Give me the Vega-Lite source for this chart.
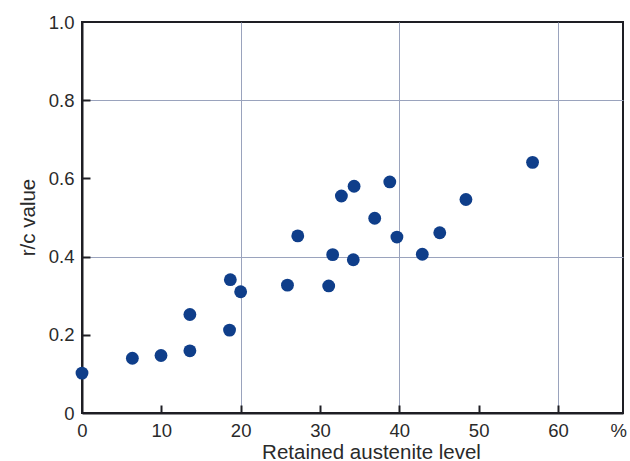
{
  "$schema": "https://vega.github.io/schema/vega-lite/v6.json",
  "width": 541,
  "height": 391,
  "autosize": {"type": "none"},
  "padding": {"left": 82, "top": 22, "right": 7, "bottom": 48},
  "background": "white",
  "config": {
    "view": {"stroke": "#1e1e24", "strokeWidth": 2},
    "axis": {
      "labelFont": "Liberation Sans",
      "titleFont": "Liberation Sans",
      "labelFontSize": 18.5,
      "titleFontSize": 20.5,
      "labelColor": "#2a2a2a",
      "titleColor": "#2a2a2a",
      "titleFontWeight": "normal",
      "labelFlush": false,
      "domainColor": "#1e1e24",
      "domainWidth": 2,
      "tickColor": "#1e1e24",
      "tickWidth": 2,
      "tickSize": -8,
      "gridColor": "#9aa3bd",
      "gridWidth": 1
    }
  },
  "data": {
    "values": [
      {"ra": 0, "rc": 0.102},
      {"ra": 6.35, "rc": 0.140},
      {"ra": 9.96, "rc": 0.147},
      {"ra": 13.6, "rc": 0.159},
      {"ra": 13.6, "rc": 0.252},
      {"ra": 18.6, "rc": 0.212},
      {"ra": 18.7, "rc": 0.341},
      {"ra": 20.0, "rc": 0.310},
      {"ra": 25.9, "rc": 0.327},
      {"ra": 27.2, "rc": 0.453},
      {"ra": 31.1, "rc": 0.325},
      {"ra": 31.6, "rc": 0.405},
      {"ra": 32.7, "rc": 0.555},
      {"ra": 34.3, "rc": 0.580},
      {"ra": 34.2, "rc": 0.392},
      {"ra": 36.9, "rc": 0.498},
      {"ra": 38.8, "rc": 0.591},
      {"ra": 39.7, "rc": 0.450},
      {"ra": 42.9, "rc": 0.406},
      {"ra": 45.1, "rc": 0.461},
      {"ra": 48.4, "rc": 0.546},
      {"ra": 56.8, "rc": 0.641}
    ]
  },
  "mark": {"type": "circle", "size": 165, "color": "#0f3e8a", "opacity": 1},
  "encoding": {
    "x": {
      "field": "ra",
      "type": "quantitative",
      "scale": {"domain": [0, 68.2], "nice": false, "zero": false},
      "axis": {
        "title": "Retained austenite level",
        "values": [0, 10, 20, 30, 40, 50, 60, 67.6],
        "labelExpr": "datum.value > 65 ? '%' : datum.label",
        "labelPadding": 16,
        "titleX": 289,
        "titleY": 45,
        "titleAlign": "center",
        "titleBaseline": "alphabetic",
        "gridOpacity": {"condition": {"test": "datum.value == 20 || datum.value == 40 || datum.value == 60", "value": 1}, "value": 0},
        "tickOpacity": {"condition": {"test": "datum.value > 65 || datum.value == 0", "value": 0}, "value": 1}
      }
    },
    "y": {
      "field": "rc",
      "type": "quantitative",
      "scale": {"domain": [0, 1], "nice": false},
      "axis": {
        "title": "r/c value",
        "values": [0, 0.2, 0.4, 0.6, 0.8, 1.0],
        "labelExpr": "datum.value == 0 ? '0' : format(datum.value, '.1f')",
        "labelPadding": 16,
        "titleX": -48,
        "titleY": 195,
        "titleAlign": "center",
        "titleBaseline": "alphabetic",
        "gridOpacity": {"condition": {"test": "abs(datum.value - 0.4) < 0.001 || abs(datum.value - 0.8) < 0.001", "value": 1}, "value": 0},
        "tickOpacity": {"condition": {"test": "datum.value == 0 || datum.value == 1", "value": 0}, "value": 1}
      }
    }
  }
}
